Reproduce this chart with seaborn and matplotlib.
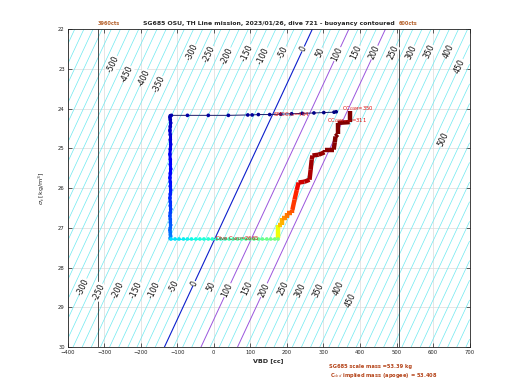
import numpy as np
import pandas as pd
import matplotlib
matplotlib.use("Agg")
import matplotlib.pyplot as plt
import seaborn as sns
from matplotlib.collections import LineCollection

# ---------------- data ----------------
# surface / start of dive (pumping down), right -> left
top_vbd = [335, 329, 301, 274, 242, 213, 183, 153, 122, 105, 93, 40, -15, -72, -116]
top_sig = [24.08, 24.09, 24.10, 24.11, 24.12, 24.13, 24.14, 24.15, 24.15, 24.16,
           24.16, 24.17, 24.17, 24.17, 24.17]
# descent at constant VBD
desc_sig = [24.18, 24.22, 24.28, 24.36, 24.45, 24.55, 24.66, 24.78, 24.9, 25.02,
            25.15, 25.28, 25.4, 25.52, 25.63, 25.74, 25.85, 25.95, 26.05, 26.15,
            26.25, 26.35, 26.44, 26.53, 26.62, 26.7, 26.78, 26.86, 26.93, 27.0,
            27.06, 27.12, 27.17, 27.21, 27.25, 27.27]
desc_vbd = [-119, -120, -119, -118, -119, -120, -119, -119, -118, -119,
            -120, -119, -119, -118, -119, -120, -119, -119, -118, -119,
            -120, -119, -119, -118, -119, -120, -119, -119, -118, -119,
            -120, -119, -119, -118, -119, -119]
# apogee pump
bot_vbd = [-117, -106, -95, -83, -72, -61, -49, -38, -27, -15, -4, 8, 19, 31, 42,
           53, 65, 76, 88, 99, 110, 122, 133, 145, 156, 167, 176]
bot_sig = [27.28] * len(bot_vbd)
# climb (staircase)
climb_vbd = [175, 175, 187, 187, 201, 201, 215, 215, 221, 227, 232, 248, 262, 265,
             268, 270, 287, 303, 303, 328, 331, 333, 339, 339, 372, 372]
climb_sig = [27.25, 26.92, 26.92, 26.75, 26.75, 26.62, 26.62, 26.55, 26.29, 26.05,
             25.86, 25.84, 25.79, 25.54, 25.28, 25.18, 25.16, 25.10, 25.03, 25.03,
             24.85, 24.70, 24.65, 24.36, 24.34, 24.07]
climb_c = [0.62, 0.64, 0.70, 0.72, 0.76, 0.78, 0.80, 0.82, 0.85, 0.87, 0.90, 0.93,
           0.95, 0.96, 0.97, 0.97, 0.98, 0.98, 0.99, 0.99, 0.99, 1.0, 1.0, 1.0,
           1.0, 1.0]

# contour label levels and the sigma where each label sits
top_lab_lev = [-500, -450, -400, -350, -300, -250, -200, -150, -100, -50, 0, 50,
               100, 150, 200, 250, 300, 350, 400, 450, 500]
top_lab_sig = [22.88, 23.14, 23.22, 23.39, 22.59, 22.63, 22.67, 22.59, 22.67, 22.59,
               22.5, 22.59, 22.63, 22.59, 22.59, 22.59, 22.59, 22.57, 22.57, 22.93, 24.78]
bot_lab_lev = [-300, -250, -200, -150, -100, -50, 0, 50, 100, 150, 200, 250, 300,
               350, 400, 450]
bot_lab_sig = [28.48, 28.61, 28.57, 28.57, 28.57, 28.48, 28.4, 28.48, 28.57, 28.52,
               28.57, 28.52, 28.57, 28.57, 28.52, 28.82]

cts_vbd = [-317, 507]
cts_txt = ["3960cts", "600cts"]

# buoyancy field parameters (g per cc, g per kg/m^3, neutral sigma at VBD 0)
B_PER_CC = 1.0
B_PER_SIG = 50.6
SIG0 = 27.33

# ---------------- figure ----------------
sns.set_theme(style="white")
plt.rcParams["font.family"] = ["DejaVu Sans"]

fig = plt.figure(figsize=(5.2, 3.9), dpi=100)
ax = fig.add_axes([0.13, 0.11, 0.7731, 0.8154])

def buoy(v, s):
    return B_PER_CC * np.asarray(v) + B_PER_SIG * (np.asarray(s) - SIG0)

vg = np.linspace(-400, 700, 221)
sg = np.linspace(22, 30, 161)
V, S = np.meshgrid(vg, sg)
B = buoy(V, S)
lev_all = np.arange(-700, 951, 25)
cyan_lev = [l for l in lev_all if l not in (0, 100, 200)]
ax.contour(V, S, B, levels=cyan_lev, colors="#6ee9f0", linewidths=0.5,
           linestyles="solid", negative_linestyles="solid", zorder=1)
ax.contour(V, S, B, levels=[0], colors="#0a1fcc", linewidths=0.8,
           linestyles="solid", zorder=1)
ax.contour(V, S, B, levels=[100, 200], colors="#9a55dd", linewidths=0.7,
           linestyles="solid", zorder=1)

def lab_vbd(lev, s):
    return (lev - B_PER_SIG * (s - SIG0)) / B_PER_CC

for lev, s in list(zip(top_lab_lev, top_lab_sig)) + list(zip(bot_lab_lev, bot_lab_sig)):
    ax.text(lab_vbd(lev, s), s, f"{lev}", rotation=65, rotation_mode="anchor",
            ha="center", va="center", fontsize=5.6, color="#111111", zorder=3,
            bbox=dict(facecolor="white", edgecolor="none", pad=0.2))

# count limit lines
for v, t in zip(cts_vbd, cts_txt):
    ax.axvline(v, color="#333333", lw=0.6, zorder=2)
    ax.text(v, 21.92, t, fontsize=3.6, color="#b5622d", ha="left", va="bottom",
            fontweight="bold", clip_on=False)

# ---------------- dive path ----------------
n_top, n_desc, n_bot = len(top_vbd), len(desc_vbd), len(bot_vbd)
c_top = np.linspace(0.0, 0.04, n_top)
c_desc = np.linspace(0.04, 0.26, n_desc)
c_bot = np.linspace(0.34, 0.5, n_bot)

df = pd.DataFrame({
    "vbd": top_vbd + desc_vbd + bot_vbd + climb_vbd,
    "sig": top_sig + desc_sig + bot_sig + climb_sig,
    "c": np.concatenate([c_top, c_desc, c_bot, climb_c]),
    "seg": ["top"] * n_top + ["desc"] * n_desc + ["bot"] * n_bot + ["climb"] * len(climb_vbd),
})

jet = plt.get_cmap("jet")
# thin connecting line over the surface / descent part
part = df[df.seg.isin(["top", "desc"])]
ax.plot(part.vbd, part.sig, color="#1c1c6a", lw=0.7, zorder=4)
# descent drawn thick
d = df[df.seg == "desc"]
pts = np.column_stack([d.vbd, d.sig])
segs = np.stack([pts[:-1], pts[1:]], axis=1)
ax.add_collection(LineCollection(segs, colors=jet(d.c.values[:-1]), linewidths=2.2, zorder=4))
# bottom
b = df[df.seg.isin(["bot"])]
pts = np.column_stack([b.vbd, b.sig])
segs = np.stack([pts[:-1], pts[1:]], axis=1)
ax.add_collection(LineCollection(segs, colors=jet(b.c.values[:-1]), linewidths=0.8, zorder=4))
# climb drawn thick
cl = df[df.seg == "climb"]
pts = np.column_stack([cl.vbd, cl.sig])
segs = np.stack([pts[:-1], pts[1:]], axis=1)
ax.add_collection(LineCollection(segs, colors=jet(cl.c.values[1:]), linewidths=3.2,
                                 capstyle="butt", zorder=5))

sns.scatterplot(data=df[df.seg != "climb"], x="vbd", y="sig", hue="c", palette=jet,
                hue_norm=(0, 1), s=7, linewidth=0, legend=False, ax=ax, zorder=6)

# annotations
ax.text(350, 24.0, r"CC$_{GSM}$=350", fontsize=3.8, color="#dd1111", ha="left",
        va="center", zorder=7)
ax.text(311, 24.3, r"CC$_{GSM\ min}$=311", fontsize=3.8, color="#dd1111", ha="left",
        va="center", zorder=7)
ax.text(161, 24.15, r"SMCC$_{Dn}$=464", fontsize=3.8, color="#dd1111", ha="left",
        va="center", zorder=7)
ax.text(2, 27.26, r"Dive C$_{VBD}$=2665", fontsize=3.8, color="#cc1111", ha="left",
        va="center", zorder=7)

# axes styling
ax.set_xlim(-400, 700)
ax.set_ylim(30, 22)
ax.set_xticks(np.arange(-400, 701, 100))
ax.set_yticks(np.arange(22, 31, 1))
ax.grid(True, color="#dcdcdc", lw=0.5, zorder=0)
ax.set_axisbelow(True)
ax.tick_params(direction="in", length=3, width=0.5, labelsize=3.8, colors="#222222",
               top=True, right=True, bottom=True, left=True, pad=2)
for sp in ax.spines.values():
    sp.set_color("#222222")
    sp.set_linewidth(0.6)
ax.set_xlabel("VBD [cc]", fontsize=4.6, fontweight="bold", labelpad=2)
ax.set_ylabel(r"$\sigma_t$ [kg/m$^3$]", fontsize=4.6, labelpad=8)
ax.set_title("SG685 OSU, TH Line mission, 2023/01/26, dive 721 - buoyancy contoured",
             fontsize=4.45, fontweight="bold", pad=3)

fig.text(0.632, 0.061, "SG685 scale mass =53.39 kg", fontsize=3.7, color="#b5451b",
         fontweight="bold", ha="left", va="center")
fig.text(0.634, 0.038, r"C$_{vbd}$ implied mass (apogee) = 53.408", fontsize=3.7,
         color="#b5451b", fontweight="bold", ha="left", va="center")

fig.savefig("out.png", dpi=100)
